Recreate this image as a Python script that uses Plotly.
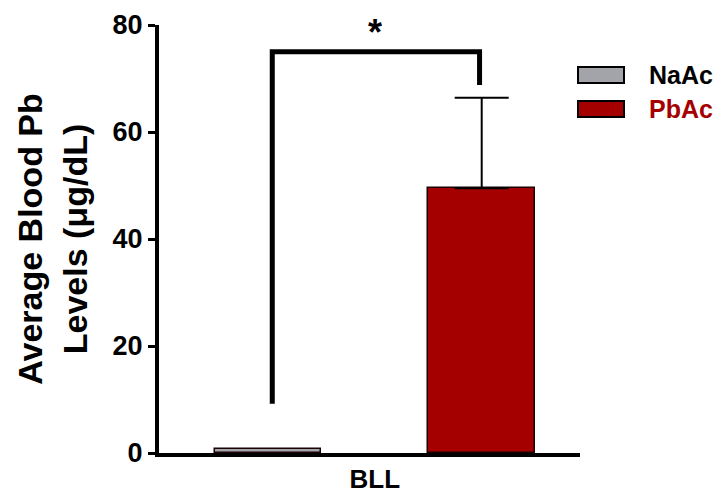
import plotly.graph_objects as go

# ---- data ----
groups = ["NaAc", "PbAc"]
means = [0.7, 49.5]
errors = [0.0, 16.9]
colors = ["#a3a3aa", "#a50000"]
legend_text_colors = ["#000000", "#a50000"]
category_label = "BLL"
y_ticks = [0, 20, 40, 60, 80]
# significance bracket: bottom of left leg, top line, bottom of right leg
bracket_left_bottom = 9.2
bracket_top = 75.0
bracket_right_bottom = 68.8
sig_text = "*"

FONT = "Liberation Sans, Arial, sans-serif"

# page offset (body margin) and plot-area geometry in screen pixels
OFF = 8
PL, PW, PT, PH = 151, 421, 17, 428


def px_x(px):
    return (px - OFF - PL) / PW


def px_y(py):
    return (OFF + PT + PH - py) / PH


fig = go.Figure()
xs = list(range(len(groups)))
for i, g in enumerate(groups):
    fig.add_trace(go.Bar(
        x=[xs[i]], y=[means[i]], name=g, width=0.5,
        marker=dict(color=colors[i], line=dict(color="#1a0000", width=1.5)),
        error_y=dict(type="data", array=[errors[i]], visible=errors[i] > 0,
                     color="black", thickness=2, width=27, symmetric=False,
                     arrayminus=[0]),
        showlegend=False,
    ))

# bracket
fig.add_trace(go.Scatter(
    x=[xs[0] + 0.02, xs[0] + 0.02, xs[1] - 0.01, xs[1] - 0.01],
    y=[bracket_left_bottom, bracket_top, bracket_top, bracket_right_bottom],
    mode="lines", line=dict(color="black", width=5), showlegend=False,
    cliponaxis=False, hoverinfo="skip",
))
fig.add_annotation(x=(xs[0] + xs[1]) / 2, y=bracket_top, text="<b>" + sig_text + "</b>",
                   showarrow=False, yshift=19,
                   font=dict(family=FONT, size=36, color="black"))

# legend drawn as shapes + text (paper coords)
for i, g in enumerate(groups):
    yc = 75 + i * 34
    fig.add_shape(type="rect", xref="paper", yref="paper",
                  x0=px_x(578), x1=px_x(624),
                  y0=px_y(yc + 8), y1=px_y(yc - 8),
                  fillcolor=colors[i], line=dict(color="black", width=2))
    fig.add_annotation(xref="paper", yref="paper",
                       x=px_x(647), y=px_y(yc),
                       xanchor="left", yanchor="middle", showarrow=False,
                       text=f"<b>{g}</b>",
                       font=dict(family=FONT, size=25, color=legend_text_colors[i]))

fig.update_layout(
    width=724 - OFF, height=495 - OFF,
    margin=dict(l=PL, r=724 - OFF - PL - PW, t=PT, b=495 - OFF - PT - PH,
                autoexpand=False),
    plot_bgcolor="white", paper_bgcolor="white",
    font=dict(family=FONT, color="black"),
    bargap=0,
)
fig.update_xaxes(
    range=[-0.51, 1.46], tickvals=[0.5], ticktext=[f"<b>{category_label}</b>"],
    showline=True, linecolor="black", linewidth=4, ticks="", showgrid=False,
    zeroline=False, tickfont=dict(family=FONT, size=26, color="black"),
    ticklabelstandoff=0,
)
fig.update_yaxes(
    range=[0, 80], tickvals=y_ticks, ticktext=[f"<b>{t}</b>" for t in y_ticks],
    showline=True, linecolor="black", linewidth=4, ticks="outside",
    ticklen=7, tickwidth=3, tickcolor="black", showgrid=False, zeroline=False,
    tickfont=dict(family=FONT, size=27, color="black"),
    title=dict(text="<b>Average Blood Pb<br>Levels (μg/dL)</b>",
               font=dict(family=FONT, size=34, color="black"), standoff=16),
)

fig.write_html("out.html")
